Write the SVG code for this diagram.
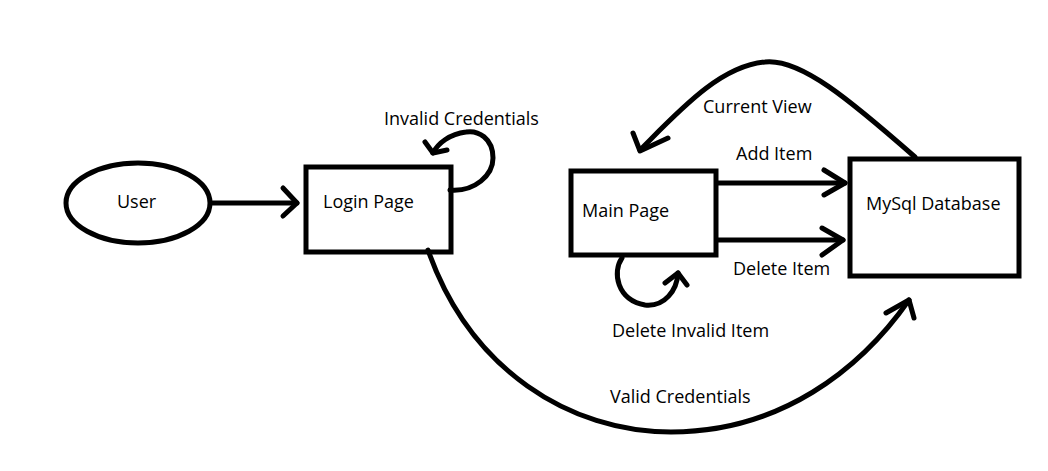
<svg xmlns="http://www.w3.org/2000/svg" width="1048" height="471" viewBox="0 0 1048 471">
<style>
.shape{fill:none;stroke:#000;stroke-width:5}
.line{fill:none;stroke:#000;stroke-width:5;stroke-linecap:round;stroke-linejoin:round}
.lbl{font-family:"Open Sans","DejaVu Sans",sans-serif;font-size:18px;fill:#000}
</style>
<rect width="1048" height="471" fill="#fff"/>
<g id="user">
<ellipse class="shape" cx="138" cy="203" rx="72" ry="40"/>
<text class="lbl" x="117" y="208">User</text>
</g>
<g id="login">
<rect class="shape" x="306" y="167" width="145" height="85"/>
<text class="lbl" x="323" y="208">Login Page</text>
</g>
<g id="main">
<rect class="shape" x="571" y="171" width="145" height="84"/>
<text class="lbl" x="582" y="217">Main Page</text>
</g>
<g id="db">
<rect class="shape" x="850" y="159" width="169" height="117"/>
<text class="lbl" x="866" y="210">MySql Database</text>
</g>
<g id="connectors">
<line class="line" x1="212" y1="203" x2="297" y2="203"/>
<polyline class="line" points="283,188 297,203 283,216"/>
<path class="line" d="M450,190 C475,192 493,175 493,158 C493,138 478,130 466,132 C450,134 438,143 433,153"/>
<polyline class="line" points="425,142 433,153 447,150"/>
<text class="lbl" x="384" y="125">Invalid Credentials</text>
<line class="line" x1="718" y1="183" x2="845" y2="183"/>
<polyline class="line" points="824,170 845,183 824,195"/>
<text class="lbl" x="736" y="160">Add Item</text>
<line class="line" x1="718" y1="240" x2="843" y2="240"/>
<polyline class="line" points="822,228 843,240 822,255"/>
<text class="lbl" x="733" y="275">Delete Item</text>
<path class="line" d="M915,157 C850,100 800,58 765,62 C720,66 680,110 640,150"/>
<polyline class="line" points="633,133 640,151 668,138"/>
<text class="lbl" x="703" y="113">Current View</text>
<path class="line" d="M622,258 C612,272 617,300 645,305 C665,307 677,290 678,273"/>
<polyline class="line" points="665,283 678,273 687,285"/>
<text class="lbl" x="612" y="337">Delete Invalid Item</text>
<path class="line" d="M428,250 C470,370 570,432 671,432 C780,432 860,370 909,300"/>
<polyline class="line" points="886,313 909,300 914,318"/>
<text class="lbl" x="610" y="403">Valid Credentials</text>
</g>
</svg>
